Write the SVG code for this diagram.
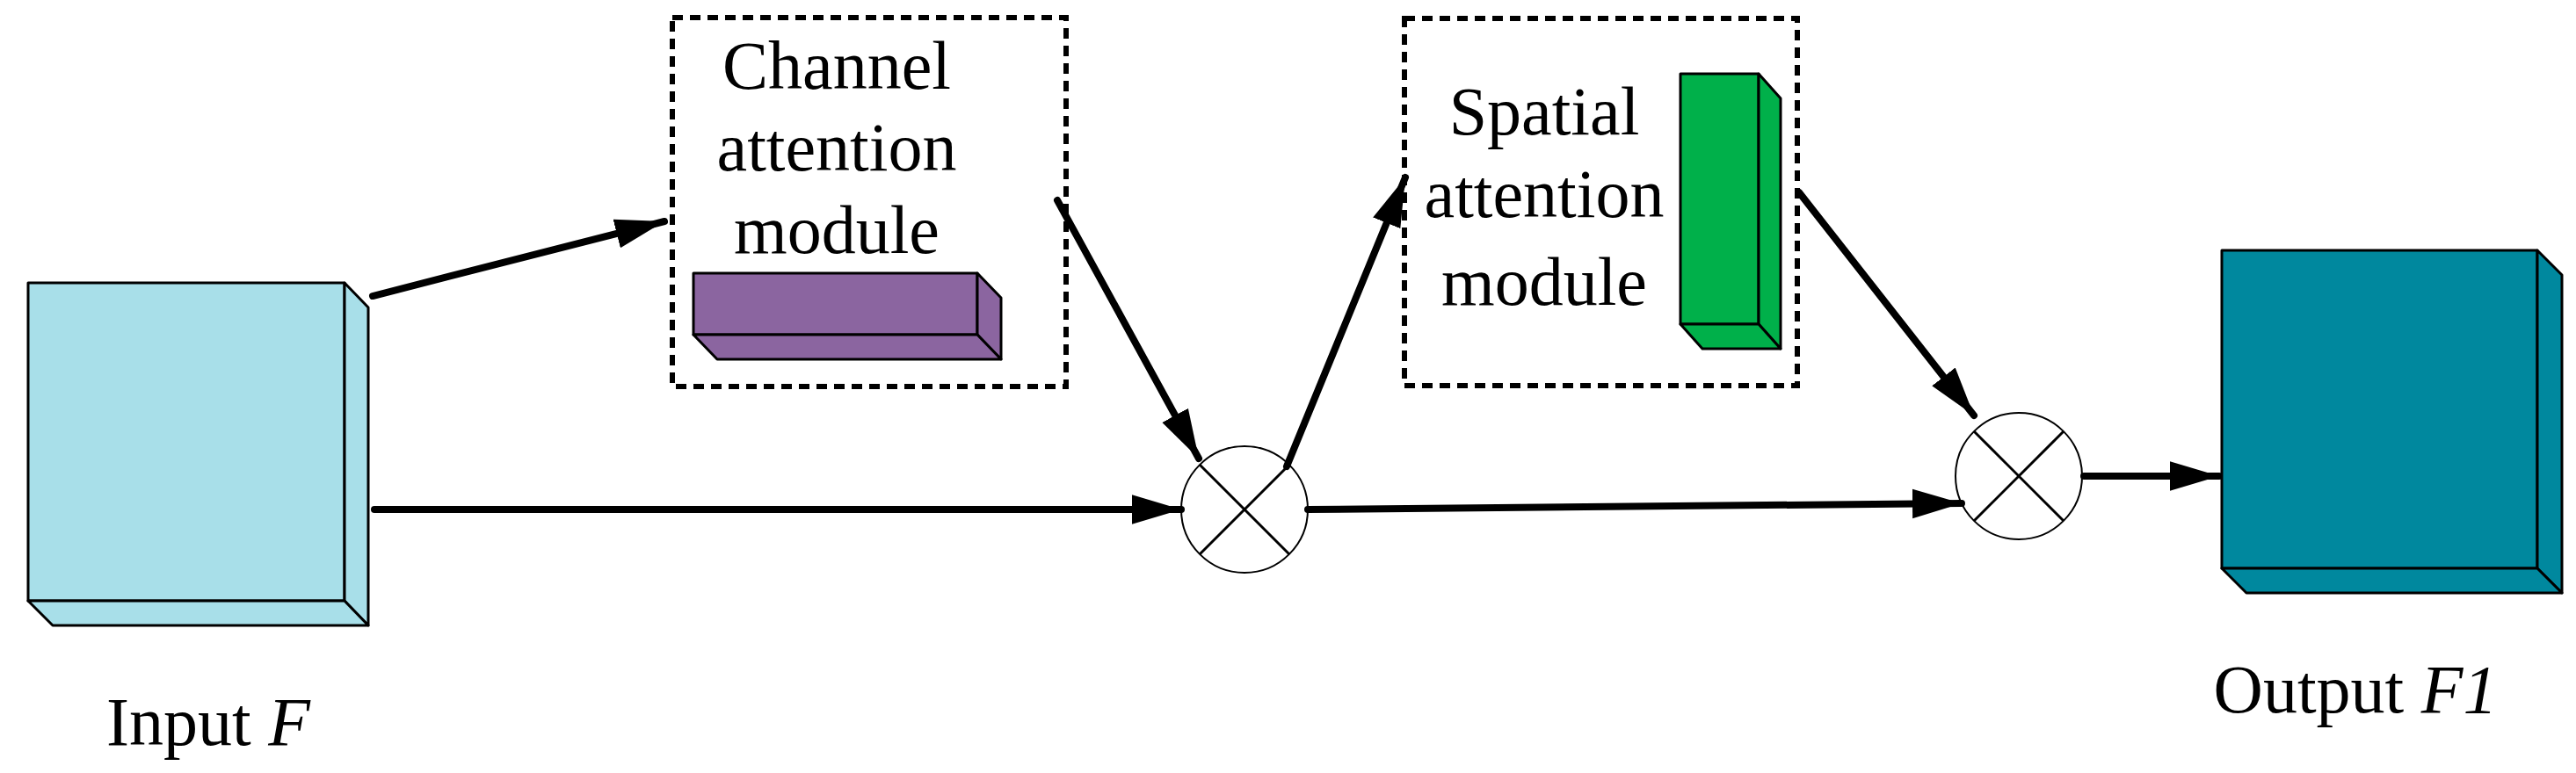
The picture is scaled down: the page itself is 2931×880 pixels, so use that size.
<svg xmlns="http://www.w3.org/2000/svg" width="2931" height="880" viewBox="0 0 2931 880">
<style>
.t{font-family:"Liberation Serif","Times New Roman",serif;font-size:78px;fill:#000;text-anchor:middle}
.face{stroke:#000;stroke-width:3;stroke-linejoin:round}
.dash{fill:none;stroke:#000;stroke-width:6;stroke-dasharray:12 8}
.con{stroke:#000;stroke-width:8;fill:none;stroke-linecap:round}
.mul{fill:#fff;stroke:#000;stroke-width:2}
.x{stroke:#000;stroke-width:3}
</style>
<defs>
<marker id="ah" viewBox="0 0 10 6" refX="10" refY="3" markerWidth="7" markerHeight="4.4" orient="auto" markerUnits="strokeWidth">
<path d="M0,0 L10,3 L0,6 Z" fill="#000"/>
</marker>
</defs>
<g id="input">
<rect class="face" x="32" y="322" width="360" height="362" fill="#A8DFE9"/>
<polygon class="face" points="392,322 419,350 419,712 392,684" fill="#A8DFE9"/>
<polygon class="face" points="32,684 392,684 419,712 60,712" fill="#A8DFE9"/>
<text class="t" x="237" y="848">Input <tspan font-style="italic">F</tspan></text>
</g>
<g id="channel">
<rect class="dash" x="765" y="20" width="448" height="420"/>
<text class="t" x="952" y="101">Channel</text>
<text class="t" x="952" y="194">attention</text>
<text class="t" x="952" y="288">module</text>
<rect class="face" x="789" y="311" width="323" height="70" fill="#8B65A0"/>
<polygon class="face" points="1112,311 1139,339 1139,409 1112,381" fill="#8B65A0"/>
<polygon class="face" points="789,381 1112,381 1139,409 816,409" fill="#8B65A0"/>
</g>
<g id="spatial">
<rect class="dash" x="1598" y="21" width="447" height="418"/>
<text class="t" x="1757" y="153">Spatial</text>
<text class="t" x="1757" y="247">attention</text>
<text class="t" x="1757" y="347">module</text>
<rect class="face" x="1912" y="84" width="89" height="285" fill="#00B04A"/>
<polygon class="face" points="2001,84 2026,112 2026,397 2001,369" fill="#00B04A"/>
<polygon class="face" points="1912,369 2001,369 2026,397 1937,397" fill="#00B04A"/>
</g>
<g id="mul1">
<circle class="mul" cx="1416" cy="580" r="72"/>
<line class="x" x1="1365" y1="529" x2="1467" y2="631"/>
<line class="x" x1="1467" y1="529" x2="1365" y2="631"/>
</g>
<g id="mul2">
<circle class="mul" cx="2297" cy="542" r="72"/>
<line class="x" x1="2246" y1="491" x2="2348" y2="593"/>
<line class="x" x1="2348" y1="491" x2="2246" y2="593"/>
</g>
<g id="output">
<rect class="face" x="2528" y="285" width="359" height="362" fill="#00889E"/>
<polygon class="face" points="2887,285 2915,313 2915,675 2887,647" fill="#00889E"/>
<polygon class="face" points="2528,647 2887,647 2915,675 2556,675" fill="#00889E"/>
<text class="t" x="2680" y="811">Output <tspan font-style="italic">F1</tspan></text>
</g>
<g id="connectors">
<line class="con" x1="424" y1="337" x2="756" y2="252" marker-end="url(#ah)"/>
<line class="con" x1="1203" y1="228" x2="1364" y2="522" marker-end="url(#ah)"/>
<line class="con" x1="426" y1="580" x2="1344" y2="580" marker-end="url(#ah)"/>
<line class="con" x1="1464" y1="531" x2="1599" y2="202" marker-end="url(#ah)"/>
<line class="con" x1="1488" y1="580" x2="2232" y2="573" marker-end="url(#ah)"/>
<line class="con" x1="2047" y1="219" x2="2246" y2="473" marker-end="url(#ah)"/>
<line class="con" x1="2371" y1="542" x2="2525" y2="542" marker-end="url(#ah)"/>
</g>
</svg>
